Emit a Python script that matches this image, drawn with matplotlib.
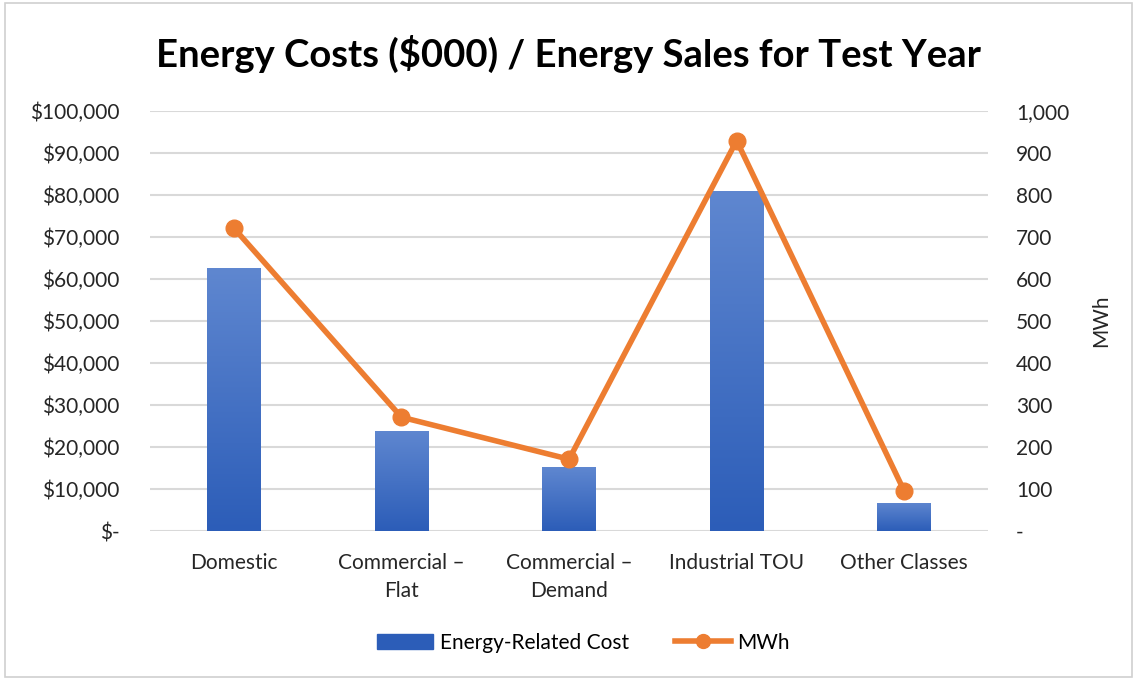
import numpy as np
import matplotlib
matplotlib.use("Agg")
import matplotlib.pyplot as plt
from matplotlib.patches import Rectangle
from matplotlib.lines import Line2D
from matplotlib.ticker import FuncFormatter

plt.rcParams['font.family'] = ['Lato', 'DejaVu Sans']

categories = ["Domestic", "Commercial \u2013\nFlat", "Commercial \u2013\nDemand", "Industrial TOU", "Other Classes"]
energy_cost = [62500, 23800, 15200, 81000, 6700]   # $000
mwh = [721, 271, 171, 929, 95]

blue_top = np.array([0x5F, 0x87, 0xD0]) / 255
blue_bot = np.array([0x2C, 0x5D, 0xB8]) / 255
orange = "#ED7D31"
grid_c = "#D9D9D9"
text_c = "#262626"

fig = plt.figure(figsize=(11.37, 6.8), dpi=100)
fig.patches.append(Rectangle((0.004, 0.004), 0.992, 0.992, transform=fig.transFigure,
                             fill=False, edgecolor="#D0D0D0", linewidth=1.2))

ax = fig.add_axes([0.132, 0.219, 0.737, 0.618])
ax2 = ax.twinx()

x = np.arange(len(categories))
bars = ax.bar(x, energy_cost, width=0.32, color=blue_bot, zorder=2)

# vertical gradient fill for each bar
grad = np.linspace(0, 1, 256)[:, None]
cmap = matplotlib.colors.LinearSegmentedColormap.from_list("g", [blue_bot, blue_top])
for b in bars:
    x0, y0 = b.get_x(), b.get_y()
    w, h = b.get_width(), b.get_height()
    im = ax.imshow(grad, extent=[x0, x0 + w, y0, y0 + h], origin="lower",
                   aspect="auto", cmap=cmap, zorder=3)
    im.set_clip_path(b)

ax.set_xlim(-0.5, len(categories) - 0.5)
ax.set_ylim(0, 100000)
ax.set_yticks(np.arange(0, 100001, 10000))
ax.yaxis.set_major_formatter(FuncFormatter(lambda v, p: "$-" if v == 0 else "${:,.0f}".format(v)))
ax.grid(axis="y", color=grid_c, linewidth=1.5, zorder=0)
ax.set_axisbelow(True)

ax2.plot(x, mwh, color=orange, linewidth=4, marker="o", markersize=12, zorder=5)
ax2.set_ylim(0, 1000)
ax2.set_yticks(np.arange(0, 1001, 100))
ax2.yaxis.set_major_formatter(FuncFormatter(lambda v, p: "-" if v == 0 else "{:,.0f}".format(v)))
ax2.set_ylabel("MWh", fontsize=15, color=text_c, labelpad=16)

for a in (ax, ax2):
    for s in a.spines.values():
        s.set_visible(False)
    a.tick_params(length=0, labelsize=15, colors=text_c)
ax.tick_params(axis="y", pad=22)
ax2.tick_params(axis="y", pad=20)
ax.set_xticks(x)
ax.set_xticklabels(categories, fontsize=15, linespacing=1.45)
ax.tick_params(axis="x", pad=16)

fig.text(0.5, 0.92, "Energy Costs ($000) / Energy Sales for Test Year", ha="center", va="center",
         fontsize=27.5, fontweight="bold", color="black")

handles = [Rectangle((0, 0), 1, 1, color=blue_bot),
           Line2D([0], [0], color=orange, linewidth=4, marker="o", markersize=10)]
fig.legend(handles, ["Energy-Related Cost", "MWh"], loc="center", bbox_to_anchor=(0.513, 0.055),
           ncol=2, frameon=False, fontsize=15, handlelength=2.7, columnspacing=2.2, handletextpad=0.3)

fig.savefig("out.png", dpi=100)
